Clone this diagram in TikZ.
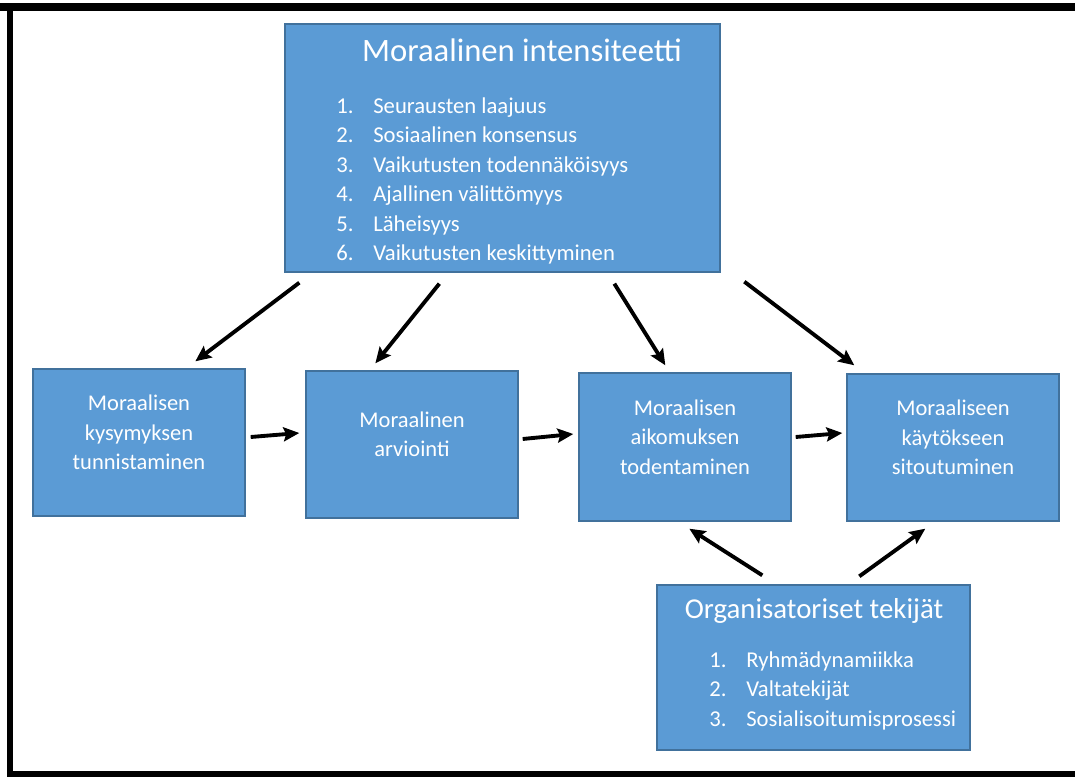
\documentclass[tikz,border=0pt]{standalone}
\usepackage{fontspec}
\setmainfont{Carlito}
\usepackage{array}
\usetikzlibrary{arrows.meta}
\definecolor{boxblue}{RGB}{91,155,213}
\definecolor{boxedge}{RGB}{65,113,156}

\tikzset{
  box/.style={draw=boxedge, fill=boxblue, line width=0.8pt, inner sep=0pt},
  lbl/.style={text=white, align=center, inner sep=0pt, font=\fontsize{12.8}{16.8}\selectfont},
  head/.style={text=white, inner sep=0pt, anchor=base},
  items/.style={text=white, inner sep=0pt, anchor=base west, font=\fontsize{12.9}{16.8}\selectfont},
  arr/.style={line width=2.2pt, -{Stealth[length=9pt,width=8pt,inset=1.5pt]}},
}

\begin{document}
\begin{tikzpicture}[x=0.02cm, y=-0.02cm]
        \useasboundingbox (0,0) rectangle (1075,777);
        % frame
        \fill[black] (0,3) rectangle (1075,11);
        \fill[black] (7,3) rectangle (13,777);
        \fill[black] (7,771) rectangle (1075,777);

        % boxes
        \node[box, minimum width=8.7cm, minimum height=4.96cm] (intens) at (502.5,148) {};
        \node[box, minimum width=4.24cm, minimum height=2.94cm] (ident) at (139,442.5) {};
        \node[box, minimum width=4.24cm, minimum height=2.94cm] (arvio) at (412,444.5) {};
        \node[box, minimum width=4.24cm, minimum height=2.96cm] (aikom) at (685,447) {};
        \node[box, minimum width=4.24cm, minimum height=2.94cm] (sitout) at (953,447.5) {};
        \node[box, minimum width=6.26cm, minimum height=3.3cm] (organ) at (813.5,667.5) {};

        % texts
        \node[head, font=\fontsize{18.6}{22}\selectfont] (intenshead) at (522,62) {Moraalinen intensiteetti};
        \node[items] (intenslist) at (336,113) {\begin{tabular}[t]{@{}p{0.74cm}@{}l@{}}
            1. & Seurausten laajuus\\
            2. & Sosiaalinen konsensus\\
            3. & Vaikutusten todennäköisyys\\
            4. & Ajallinen välittömyys\\
            5. & Läheisyys\\
            6. & Vaikutusten keskittyminen
          \end{tabular}};
        \node[lbl] (identtxt) at ([shift={(0,-10)}]ident.center) {Moraalisen\\kysymyksen\\tunnistaminen};
        \node[lbl] (arviotxt) at ([shift={(0,-10)}]arvio.center) {Moraalinen\\arviointi};
        \node[lbl] (aikomtxt) at ([shift={(0,-10)}]aikom.center) {Moraalisen\\aikomuksen\\todentaminen};
        \node[lbl] (sitouttxt) at ([shift={(0,-10)}]sitout.center) {Moraaliseen\\käytökseen\\sitoutuminen};
        \node[head, font=\fontsize{16.4}{20}\selectfont] (organhead) at (814,618) {Organisatoriset tekijät};
        \node[items] (organlist) at (709,667) {\begin{tabular}[t]{@{}p{0.74cm}@{}l@{}}
            1. & Ryhmädynamiikka\\
            2. & Valtatekijät\\
            3. & Sosialisoitumisprosessi
          \end{tabular}};

        % arrows
        \draw[arr] ([shift={(15,10)}]intens.south west) -- ([shift={(163,-7)}]ident.north west);
        \draw[arr] ([shift={(155,11)}]intens.south west) -- ([shift={(70,-7)}]arvio.north west);
        \draw[arr] ([shift={(330,11)}]intens.south west) -- ([shift={(87,-7)}]aikom.north west);
        \draw[arr] ([shift={(460,9)}]intens.south west) -- ([shift={(8,-8)}]sitout.north west);
        \draw[arr] ([shift={(5,-5.5)}]ident.east) -- ([shift={(-6,-11.5)}]arvio.west);
        \draw[arr] ([shift={(4,-5.5)}]arvio.east) -- ([shift={(-5,-13)}]aikom.west);
        \draw[arr] ([shift={(4,-10)}]aikom.east) -- ([shift={(-4,-14.5)}]sitout.west);
        \draw[arr] ([shift={(106,-9)}]organ.north west) -- ([shift={(111,7)}]aikom.south west);
        \draw[arr] ([shift={(203,-8)}]organ.north west) -- ([shift={(79,7)}]sitout.south west);
\end{tikzpicture}
\end{document}
